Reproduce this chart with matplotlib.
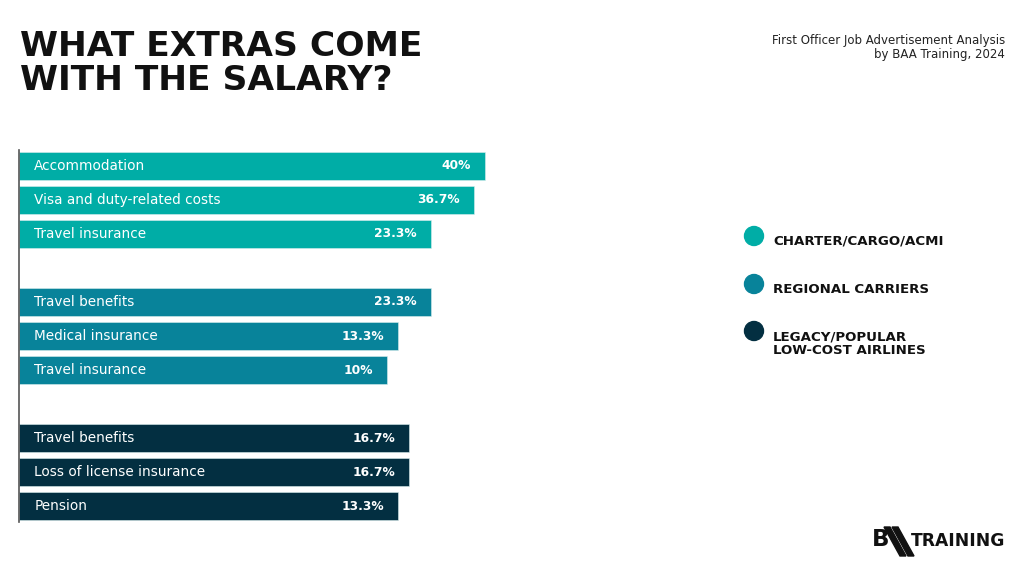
import matplotlib.pyplot as plt
from matplotlib.patches import Ellipse, Polygon

W, H = 1024, 580

# data
labels = ['Accommodation', 'Visa and duty-related costs', 'Travel insurance',
          'Travel benefits', 'Medical insurance', 'Travel insurance',
          'Travel benefits', 'Loss of license insurance', 'Pension']
values = [40, 36.7, 23.3, 23.3, 13.3, 10, 16.7, 16.7, 13.3]
groups = [0, 0, 0, 1, 1, 1, 2, 2, 2]
group_names = ['CHARTER/CARGO/ACMI', 'REGIONAL CARRIERS', 'LEGACY/POPULAR\nLOW-COST AIRLINES']
group_colors = ['#00ADA6', '#08839A', '#032F41']

X0 = -103.5  # axis origin, bars start at the left edge


def fx(px):
    return px / W


def fy(py):
    return 1 - py / H


fig = plt.figure(figsize=(W / 100, H / 100), dpi=100)
fig.patch.set_facecolor('white')

ax = fig.add_axes([fx(19), fy(522), (500 - 19) / W, (522 - 150) / H])
positions = [i + 1 * g for i, g in enumerate(groups)]
for pos, val, lab, g in zip(positions, values, labels, groups):
    ax.barh(pos, val - X0, left=X0, height=0.82, color=group_colors[g],
            edgecolor='#d9eeee', linewidth=0.4)
    ax.annotate(lab, (X0, pos), xytext=(11, 0), textcoords='offset points',
                ha='left', va='center', color='white', fontsize=9.8,
                family='DejaVu Sans')
    ax.annotate(f'{val:g}%', (val, pos), xytext=(-10, 0), textcoords='offset points',
                ha='right', va='center', color='white', fontsize=8.8,
                family='DejaVu Sans', fontweight='bold')

ax.set_xlim(X0, X0 + 481 / 3.246)
ax.set_ylim(10.47, -0.47)
for s in ['top', 'right', 'bottom']:
    ax.spines[s].set_visible(False)
ax.spines['left'].set_color('#555555')
ax.spines['left'].set_linewidth(1.2)
ax.set_xticks([])
ax.set_yticks([])
ax.patch.set_alpha(0)

# title and source
fig.text(fx(20), fy(30), 'WHAT EXTRAS COME\nWITH THE SALARY?', ha='left', va='top',
         fontsize=24.8, fontweight='bold', family='DejaVu Sans', linespacing=1.05,
         color='#111111')
fig.text(fx(1005), fy(34), 'First Officer Job Advertisement Analysis\nby BAA Training, 2024',
         ha='right', va='top', fontsize=8.5, family='DejaVu Sans', color='#222222',
         linespacing=1.1)

# legend
leg_y = [236, 284, 331]
text_y = [241, 289, 344]
for name, col, cy, ty in zip(group_names, group_colors, leg_y, text_y):
    fig.patches.append(Ellipse((fx(754), fy(cy)), 19 / W, 19 / H, color=col,
                               transform=fig.transFigure, figure=fig))
    fig.text(fx(773), fy(ty), name, ha='left', va='center', fontsize=9.6,
             fontweight='bold', family='DejaVu Sans', linespacing=1.0, color='#111111')

# logo
fig.text(fx(872), fy(539), 'B', ha='left', va='center', fontsize=16.5,
         fontweight='bold', family='DejaVu Sans', color='#111111')
for dx in (0, 8):
    stripe = [(884 + dx, 527), (890 + dx, 527), (906 + dx, 556), (900 + dx, 556)]
    fig.patches.append(Polygon([(fx(a), fy(b)) for a, b in stripe], closed=True,
                               color='#111111', transform=fig.transFigure, figure=fig))
fig.text(fx(1005), fy(541), 'TRAINING', ha='right', va='center', fontsize=12.3,
         fontweight='bold', family='DejaVu Sans', color='#111111')

fig.savefig('out.png', dpi=100, facecolor='white')
